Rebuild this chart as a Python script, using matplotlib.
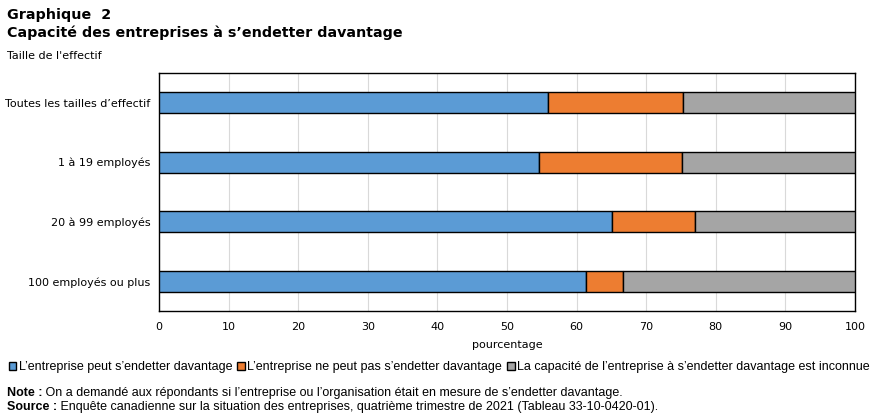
import matplotlib.pyplot as plt
import numpy as np

categories = ["Toutes les tailles d\u2019effectif", "1 \u00e0 19 employ\u00e9s",
              "20 \u00e0 99 employ\u00e9s", "100 employ\u00e9s ou plus"]
peut = [55.9, 54.6, 65.1, 61.3]
ne_peut_pas = [19.4, 20.6, 11.9, 5.4]
inconnue = [24.7, 24.8, 23.0, 33.3]
series_names = ["L\u2019entreprise peut s\u2019endetter davantage",
                "L\u2019entreprise ne peut pas s\u2019endetter davantage",
                "La capacit\u00e9 de l\u2019entreprise \u00e0 s\u2019endetter davantage est inconnue"]
colors = ["#5B9BD5", "#ED7D31", "#A5A5A5"]

plt.rcParams['font.family'] = ['DejaVu Sans']
narrow = ['Liberation Sans', 'DejaVu Sans']

fig = plt.figure(figsize=(8.75, 4.17), dpi=100)
ax = fig.add_axes([159/875, 1-311/417, (855-159)/875, (311-73)/417])

y = np.arange(len(categories))
left = np.zeros(len(categories))
for vals, name, c in zip([peut, ne_peut_pas, inconnue], series_names, colors):
    ax.barh(y, vals, left=left, height=0.36, color=c, edgecolor="black",
            linewidth=1, label=name, zorder=3)
    left += np.array(vals)

ax.set_xlim(0, 100)
ax.set_ylim(3.5, -0.5)
ax.set_xticks(range(0, 101, 10))
ax.set_yticks(y)
ax.set_yticklabels(categories, fontsize=8)
ax.tick_params(axis="x", labelsize=8, length=0, pad=8)
ax.tick_params(axis="y", length=0, pad=6)
ax.grid(axis="x", color="#d9d9d9", linewidth=0.8, zorder=0)
for s in ax.spines.values():
    s.set_color("black")
    s.set_linewidth(1)
ax.set_xlabel("pourcentage", fontsize=8, labelpad=6)

fig.legend(loc="center", bbox_to_anchor=(0.502, 1-367/417), ncol=3,
           prop={'family': narrow, 'size': 9.0},
           frameon=False, handlelength=0.6, handleheight=0.6, handletextpad=0.2,
           columnspacing=0.4, borderaxespad=0)

fig.text(7/875, 1-15/417, "Graphique  2", fontsize=10.3, fontweight="bold", va="center")
fig.text(7/875, 1-33/417, "Capacit\u00e9 des entreprises \u00e0 s\u2019endetter davantage",
         fontsize=10.3, fontweight="bold", va="center")
fig.text(7/875, 1-56/417, "Taille de l'effectif", fontsize=8, va="center")

notes = [("Note :", " On a demand\u00e9 aux r\u00e9pondants si l\u2019entreprise ou l\u2019organisation \u00e9tait en mesure de s\u2019endetter davantage.", 393),
         ("Source :", " Enqu\u00eate canadienne sur la situation des entreprises, quatri\u00e8me trimestre de 2021 (Tableau 33-10-0420-01).", 407)]
fig.canvas.draw()
for head, body, ypx in notes:
    t = fig.text(7/875, 1-ypx/417, head, fontsize=9.0, family=narrow,
                 fontweight="bold", va="center")
    w = t.get_window_extent().width
    fig.text((7 + w)/875, 1-ypx/417, body, fontsize=9.0, family=narrow, va="center")

fig.savefig("out.png", dpi=100)
